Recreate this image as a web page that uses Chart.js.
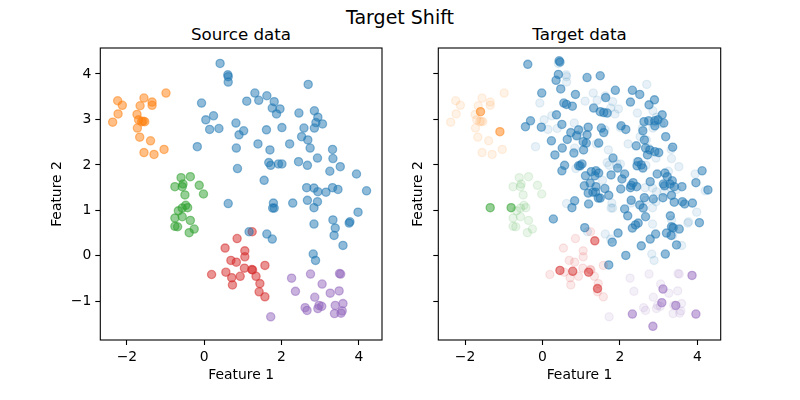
<!DOCTYPE html>
<html>
<head>
<meta charset="utf-8">
<script src="https://cdn.jsdelivr.net/npm/chart.js@4.4.0/dist/chart.umd.min.js"></script>
<style>
  html, body { margin: 0; padding: 0; background: #fff; }
  #wrap { position: relative; width: 800px; height: 400px; font-family: 'DejaVu Sans', sans-serif; color: #000; }
  .cv { position: absolute; top: 0; }
  .title { position: absolute; transform: translate(-50%, -50%); white-space: nowrap; }
</style>
</head>
<body>
<div id="wrap">
  <div class="title" style="left:400px; top:17px; font-size:19px;">Target Shift</div>
  <div class="title" style="left:241px; top:34px; font-size:16.7px;">Source data</div>
  <div class="title" style="left:579.5px; top:34px; font-size:16.7px;">Target data</div>
  <canvas id="left" class="cv" style="left:0" width="400" height="400"></canvas>
  <canvas id="right" class="cv" style="left:400px" width="400" height="400"></canvas>
</div>
<script>
// Axis ticks
const xTicks = [-2, 0, 2, 4];
const yTicks = [-1, 0, 1, 2, 3, 4];
const xRange = [-2.69, 4.6];
const yRange = [-1.85, 4.57];

// Source data, one array of [feature1, feature2] per class
const srcBlue = [
    [0.41,4.23],[0.61,3.98],[0.62,3.94],[0.62,3.82],[-0.07,3.36],[0.24,3.08],[0.04,2.99],[0.14,2.78],
    [0.38,2.80],[0.82,2.92],[0.90,2.66],[-0.18,2.40],[0.83,2.37],[0.86,1.92],
    [2.69,3.77],[1.31,3.58],[1.62,3.52],[1.10,3.40],[1.41,3.42],[1.81,3.39],[1.76,3.25],[1.96,3.23],
    [1.87,3.12],[2.45,3.14],[2.85,3.19],[2.94,3.05],[2.89,2.93],[3.06,2.90],[2.85,2.81],[1.02,2.75],
    [1.61,2.77],[2.01,2.82],[2.58,2.81],[2.52,2.62],[2.68,2.55],[2.74,2.37],[2.21,2.46],[1.39,2.46],
    [1.70,2.33],[3.32,2.34],[2.93,2.15],[3.33,2.14],[1.67,2.05],[1.72,1.99],[1.92,2.02],[2.01,2.02],
    [2.44,2.07],[2.67,1.99],[3.52,1.96],[3.25,1.86],[3.94,1.80],[1.55,1.66],[0.62,1.15],
    [2.65,1.50],[2.84,1.49],[2.94,1.41],[3.15,1.40],[3.32,1.50],[3.46,1.46],[4.20,1.43],[1.79,1.16],
    [1.81,1.05],[1.77,1.05],[2.29,1.16],[2.67,1.22],[2.93,1.19],[2.84,1.06],[3.98,0.96],[3.33,0.79],
    [3.77,0.75],[3.75,0.72],[3.39,0.61],[3.36,0.45],[2.84,0.70],[1.62,0.48],[1.76,0.37],[3.59,0.23],
    [2.82,0.04],[2.88,-0.10],[1.16,0.53]
];
const srcOrange = [
    [-2.24,3.41],[-2.12,3.31],[-0.99,3.58],[-1.56,3.47],[-1.35,3.38],[-1.35,3.31],[-1.66,3.30],
    [-2.23,3.12],[-2.37,2.94],[-1.74,3.11],[-1.70,2.99],[-1.62,2.95],[-1.54,2.95],[-1.58,2.96],
    [-1.73,2.81],[-1.67,2.61],[-1.39,2.53],[-1.56,2.27],[-1.30,2.23],[-1.04,2.34]
];
const srcGreen = [
    [-0.60,1.72],[-0.36,1.74],[-0.76,1.52],[-0.55,1.58],[-0.57,1.52],[-0.13,1.55],[-0.50,1.34],
    [-0.02,1.36],[-0.67,0.99],[-0.57,1.05],[-0.48,1.11],[-0.43,1.06],[-0.57,0.86],[-0.76,0.83],
    [-0.36,0.78],[-0.76,0.65],[-0.69,0.64],[-0.26,0.59],[-0.39,0.51]
];
const srcRed = [
    [0.85,0.38],[0.54,0.17],[0.69,-0.10],[0.83,-0.14],[0.19,-0.41],[0.56,-0.36],[0.71,-0.48],
    [0.73,-0.64],[0.93,-0.45],[1.24,0.53],[1.05,0.11],[1.05,-0.02],[1.04,-0.27],[1.23,-0.30],
    [1.25,-0.31],[1.57,-0.21],[1.34,-0.45],[1.44,-0.61],[1.42,-0.79],[1.57,-0.90]
];
const srcPurple = [
    [2.75,-0.40],[2.26,-0.49],[3.50,-0.39],[3.53,-0.40],[3.05,-0.62],[2.36,-0.78],[3.26,-0.82],
    [3.49,-0.77],[2.86,-0.91],[3.59,-1.05],[2.61,-1.14],[2.66,-1.20],[2.97,-1.09],[2.94,-1.16],
    [3.04,-1.11],[3.39,-1.09],[3.37,-1.27],[3.54,-1.26],[3.57,-1.21],[1.72,-1.34]
];

// Target data
const tgtBlue = [
    [-0.38,4.21],[0.43,4.29],[0.45,4.26],[0.41,3.99],[0.35,3.86],[0.47,3.67],[-0.02,3.58],[0.85,3.55],
    [0.55,3.36],[0.62,3.33],[0.77,3.29],[0.36,3.10],[-0.31,2.97],[-0.44,2.84],[-0.03,2.83],[0.50,2.89],
    [0.73,2.71],[0.64,2.56],[0.88,2.64],[0.23,2.53],[0.51,2.37],[0.81,2.26],[0.32,2.22],[0.93,1.98],
    [0.57,1.99],[0.50,1.87],[0.83,1.21],[0.76,1.06],[0.28,0.81],
    [1.15,3.92],[1.49,3.96],[1.88,3.64],[2.32,3.64],[2.51,3.55],[2.27,3.38],[1.63,3.48],[2.89,3.43],
    [2.75,3.32],[1.32,3.25],[1.49,3.17],[1.58,3.15],[1.67,3.14],[3.09,3.10],[2.62,2.95],[2.74,2.97],
    [2.90,2.97],[2.98,2.99],[3.13,2.92],[2.90,2.86],[2.03,2.86],[2.15,2.78],[1.52,2.81],[1.58,2.71],
    [2.59,2.75],[1.18,2.83],[1.15,2.66],[0.93,2.77],[2.63,2.55],[3.18,2.62],[1.45,2.48],[1.05,2.51],
    [1.13,2.48],[2.66,2.37],[2.77,2.33],[2.71,2.22],[2.90,2.29],[3.00,2.27],[3.36,2.39],[2.42,2.42],
    [1.06,2.33],[1.82,2.15],[1.02,2.02],[0.97,1.98],[2.47,2.07],[2.44,1.98],[2.55,2.00],[2.59,1.93],
    [1.94,1.93],[1.26,1.85],[1.38,1.87],[1.35,1.76],[1.45,1.82],[1.11,1.76],[1.77,1.78],[2.12,1.80],
    [2.05,1.69],[2.34,1.61],[2.29,1.55],[2.43,1.52],[2.78,1.63],[2.96,1.80],[3.16,1.82],[3.22,1.74],
    [3.35,1.65],[3.29,1.58],[3.12,1.58],[3.15,1.54],[3.40,1.52],[3.60,1.52],[3.96,1.61],[4.12,1.87],
    [4.27,1.45],[2.02,1.47],[1.61,1.48],[1.38,1.52],[1.23,1.60],[1.08,1.54],[2.27,1.50],
    [1.19,1.14],[1.44,1.27],[1.49,1.27],[1.71,1.33],[1.18,1.38],[1.30,1.40],[1.37,1.40],[2.29,1.22],
    [2.63,1.28],[2.86,1.25],[2.51,1.12],[2.60,1.05],[3.11,1.28],[3.33,1.33],[3.61,1.19],[3.67,1.14],
    [3.87,1.16],[3.40,1.18],[2.12,1.03],[2.20,0.88],[2.66,0.86],[3.30,0.88],[4.05,0.73],[1.09,0.62],
    [2.47,0.72],[2.40,0.68],[2.32,0.61],[1.95,0.50],[1.80,0.30],[2.92,0.48],[2.78,0.37],[3.20,0.50],
    [3.32,0.45],[3.37,0.62],[3.33,0.64],[3.53,0.59],[3.46,0.24],[2.55,0.22],[3.17,0.04],[2.15,0.01],
    [1.71,-0.20]
];
const tgtOrange = [[-1.60,3.17],[-1.10,2.73]];
const tgtGreen = [[-1.35,1.06],[-0.81,1.06]];
const tgtRed = [[0.45,-0.32],[0.78,-0.34],[1.35,0.33],[1.19,-0.36],[1.42,-0.72]];
const tgtPurple = [
    [3.86,-0.43],[3.11,-0.73],[3.08,-1.03],[3.44,-1.09],[2.32,-1.28],[3.96,-1.28],[2.85,-1.55]
];

// tab10 colours
const BLUE = '31,119,180';
const ORANGE = '255,127,14';
const GREEN = '44,160,44';
const RED = '214,39,40';
const PURPLE = '148,103,189';

Chart.defaults.font.family = "'DejaVu Sans', sans-serif";
Chart.defaults.font.size = 13.9;
Chart.defaults.color = '#000';
Chart.defaults.animation = false;

function scatterSet(points, rgb, alpha) {
    const c = `rgba(${rgb},${alpha})`;
    return {
        data: points.map(p => ({ x: p[0], y: p[1] })),
        backgroundColor: c,
        borderColor: c,
        borderWidth: 1.3,
        pointRadius: 4.1,
        pointHoverRadius: 4.1
    };
}

const minus = v => String(v).replace('-', '\u2212');

// full box around the plot area, like matplotlib spines
const framePlugin = {
    id: 'frame',
    afterDatasetsDraw(chart) {
        const a = chart.chartArea;
        const ctx = chart.ctx;
        ctx.save();
        ctx.strokeStyle = '#000';
        ctx.lineWidth = 1.1;
        ctx.strokeRect(a.left, a.top, a.right - a.left, a.bottom - a.top);
        ctx.restore();
    }
};

function makeChart(id, datasets, opts) {
    const tickGrid = { display: true, drawOnChartArea: false, drawTicks: true, tickLength: 5, tickColor: '#000', tickWidth: 1.1 };
    return new Chart(document.getElementById(id), {
        type: 'scatter',
        data: { datasets },
        plugins: [framePlugin],
        options: {
            responsive: false,
            layout: { padding: opts.padding },
            plugins: { legend: { display: false }, tooltip: { enabled: false } },
            scales: {
                x: {
                    type: 'linear',
                    min: xRange[0], max: xRange[1],
                    grid: tickGrid,
                    border: { display: false },
                    afterBuildTicks: s => { s.ticks = xTicks.map(v => ({ value: v })); },
                    afterFit: s => { s.height = opts.xHeight; },
                    ticks: { padding: 4, maxRotation: 0, callback: v => minus(v) },
                    title: { display: true, text: 'Feature 1', padding: { top: 4, bottom: 4 } }
                },
                y: {
                    type: 'linear',
                    min: yRange[0], max: yRange[1],
                    grid: tickGrid,
                    border: { display: false },
                    afterBuildTicks: s => { s.ticks = yTicks.map(v => ({ value: v })); },
                    afterFit: s => { s.width = opts.yWidth; },
                    ticks: { padding: 4, callback: v => opts.yLabels ? minus(v) : '' },
                    title: { display: true, text: 'Feature 2', padding: { top: 4, bottom: 4 } }
                }
            }
        }
    });
}

makeChart('left', [
    scatterSet(srcBlue, BLUE, 0.5),
    scatterSet(srcOrange, ORANGE, 0.5),
    scatterSet(srcGreen, GREEN, 0.5),
    scatterSet(srcRed, RED, 0.5),
    scatterSet(srcPurple, PURPLE, 0.5)
], { padding: { left: 45, top: 48, right: 18, bottom: 12.7 }, yWidth: 55.3, xHeight: 47.3, yLabels: true });

makeChart('right', [
    scatterSet(srcBlue, BLUE, 0.1),
    scatterSet(srcOrange, ORANGE, 0.1),
    scatterSet(srcGreen, GREEN, 0.1),
    scatterSet(srcRed, RED, 0.1),
    scatterSet(srcPurple, PURPLE, 0.1),
    scatterSet(tgtBlue, BLUE, 0.5),
    scatterSet(tgtOrange, ORANGE, 0.5),
    scatterSet(tgtGreen, GREEN, 0.5),
    scatterSet(tgtRed, RED, 0.5),
    scatterSet(tgtPurple, PURPLE, 0.5)
], { padding: { left: 5.7, top: 48, right: 79.3, bottom: 12.7 }, yWidth: 32.6, xHeight: 47.3, yLabels: false });
</script>
</body>
</html>
